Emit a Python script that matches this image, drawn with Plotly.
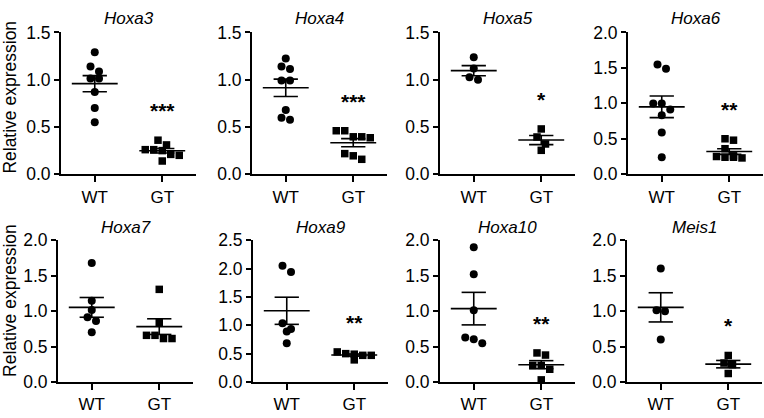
import numpy as np
import plotly.graph_objects as go

# ---------------- data ----------------
genes = ["Hoxa3", "Hoxa4", "Hoxa5", "Hoxa6", "Hoxa7", "Hoxa9", "Hoxa10", "Meis1"]
group_labels = ["WT", "GT"]

wt_hoxa3 = [1.29, 1.14, 1.087, 1.013, 1.013, 0.87, 0.70, 0.55]
gt_hoxa3 = [0.36, 0.31, 0.26, 0.26, 0.25, 0.21, 0.20, 0.14]
wt_hoxa4 = [1.225, 1.14, 1.114, 0.99, 0.99, 0.68, 0.597, 0.577]
gt_hoxa4 = [0.46, 0.46, 0.396, 0.386, 0.396, 0.218, 0.195, 0.158]
wt_hoxa5 = [1.237, 1.119, 1.025, 1.0]
gt_hoxa5 = [0.479, 0.394, 0.32, 0.253]
wt_hoxa6 = [1.546, 1.488, 0.998, 0.998, 0.913, 0.833, 0.588, 0.24]
gt_hoxa6 = [0.50, 0.48, 0.36, 0.26, 0.25, 0.24, 0.24, 0.23]
wt_hoxa7 = [1.678, 1.145, 1.016, 0.913, 0.859, 0.702]
gt_hoxa7 = [1.306, 0.837, 0.658, 0.658, 0.613, 0.613]
wt_hoxa9 = [2.05, 1.94, 1.035, 0.934, 0.889, 0.682]
gt_hoxa9 = [0.53, 0.50, 0.49, 0.47, 0.47, 0.39]
wt_hoxa10 = [1.90, 1.52, 1.011, 0.626, 0.604, 0.546]
gt_hoxa10 = [0.41, 0.38, 0.233, 0.233, 0.18, 0.03]
wt_meis1 = [1.60, 1.011, 0.998, 0.601]
gt_meis1 = [0.374, 0.267, 0.245, 0.12]

wt_values = [wt_hoxa3, wt_hoxa4, wt_hoxa5, wt_hoxa6, wt_hoxa7, wt_hoxa9, wt_hoxa10, wt_meis1]
gt_values = [gt_hoxa3, gt_hoxa4, gt_hoxa5, gt_hoxa6, gt_hoxa7, gt_hoxa9, gt_hoxa10, gt_meis1]

y_max = [1.5, 1.5, 1.5, 2.0, 2.0, 2.5, 2.0, 2.0]
y_step = [0.5, 0.5, 0.5, 0.5, 0.5, 0.5, 0.5, 0.5]
significance = ["***", "***", "*", "**", "", "**", "**", "*"]

# ---------------- layout geometry (pixels) ----------------
W, H = 764, 418
col_left = [[61, 252, 440, 628], [58, 253, 440, 627]]
axis_w = 135
row_top = [23.5, 241.7]
row_bot = [172.5, 390.7]
plot_h = 149.0
title_y = [9, 228.5]
ylab_y = [91.5, 305]

FONT = "Arial, Liberation Sans, sans-serif"
BLACK = "#000000"


def swarm(vals, ppu_y, ppu_x, step_px=8.5, thr_px=7.5):
    vals = np.asarray(vals, float)
    order = np.argsort(-vals, kind="stable")
    rows, cur = [], []
    for i in order:
        if cur and (vals[cur[0]] - vals[i]) * ppu_y > thr_px:
            rows.append(cur)
            cur = []
        cur.append(i)
    if cur:
        rows.append(cur)
    off = np.zeros(len(vals))
    for r in rows:
        n = len(r)
        for k, i in enumerate(r):
            off[i] = (k - (n - 1) / 2) * step_px / ppu_x
    return off


fig = go.Figure()
annotations = []
layout_axes = {}

for p, gene in enumerate(genes):
    row, col = divmod(p, 4)
    ax = p + 1
    xname = "x" if ax == 1 else f"x{ax}"
    yname = "y" if ax == 1 else f"y{ax}"
    left = col_left[row][col]
    xd = [left / W, min((left + axis_w) / W, 1.0)]
    yd = [1 - row_bot[row] / H, 1 - row_top[row] / H]
    ppu_y = plot_h / y_max[p]
    ppu_x = axis_w / 2.0

    for g, (vals, sym, msize) in enumerate([(wt_values[p], "circle", 8), (gt_values[p], "square", 7.5)]):
        vals = np.asarray(vals, float)
        xs = g + swarm(vals, ppu_y, ppu_x)
        fig.add_trace(go.Scatter(
            x=xs, y=vals, mode="markers", xaxis=xname, yaxis=yname,
            marker=dict(symbol=sym, size=msize, color=BLACK, line=dict(width=0)),
            cliponaxis=False, showlegend=False, hoverinfo="y"))
        m = vals.mean()
        sem = vals.std(ddof=1) / np.sqrt(len(vals))
        mw, cw = 0.34, 0.18
        fig.add_trace(go.Scatter(
            x=[g - mw, g + mw, None, g - cw, g + cw, None, g - cw, g + cw, None, g, g],
            y=[m, m, None, m + sem, m + sem, None, m - sem, m - sem, None, m - sem, m + sem],
            mode="lines", xaxis=xname, yaxis=yname,
            line=dict(color=BLACK, width=1.6), cliponaxis=False,
            showlegend=False, hoverinfo="skip"))

    layout_axes["xaxis" if ax == 1 else f"xaxis{ax}"] = dict(
        domain=xd, range=[-0.5, 1.5], anchor=yname,
        tickmode="array", tickvals=[0, 1], ticktext=group_labels,
        showline=True, linecolor=BLACK, linewidth=2,
        ticks="outside", ticklen=6, tickwidth=2, tickcolor=BLACK,
        showgrid=False, zeroline=False, fixedrange=True,
        tickfont=dict(family=FONT, size=17, color=BLACK))
    layout_axes["yaxis" if ax == 1 else f"yaxis{ax}"] = dict(
        domain=yd, range=[0, y_max[p]], anchor=xname,
        tickmode="linear", tick0=0, dtick=y_step[p], tickformat=".1f",
        showline=True, linecolor=BLACK, linewidth=2,
        ticks="outside", ticklen=5, tickwidth=2, tickcolor=BLACK,
        showgrid=False, zeroline=False, fixedrange=True,
        tickfont=dict(family=FONT, size=17.5, color=BLACK))

    annotations.append(dict(
        text=f"<i>{gene}</i>", xref=xname, yref="paper", x=0.5, y=1 - title_y[row] / H,
        xanchor="center", yanchor="middle", showarrow=False,
        font=dict(family=FONT, size=17, color=BLACK)))

    if significance[p]:
        ys = max(gt_values[p]) + 31 / ppu_y
        annotations.append(dict(
            text=f"<b>{significance[p]}</b>", xref=xname, yref=yname, x=1, y=ys,
            xanchor="center", yanchor="middle", yshift=0, showarrow=False,
            font=dict(family=FONT, size=21, color=BLACK)))

for r in range(2):
    annotations.append(dict(
        text="Relative expression", xref="paper", yref="paper",
        x=10.5 / W, y=1 - ylab_y[r] / H, textangle=-90,
        xanchor="center", yanchor="middle", showarrow=False,
        font=dict(family=FONT, size=17.5, color=BLACK)))

fig.update_layout(
    width=W, height=H, margin=dict(l=0, r=0, t=0, b=0),
    paper_bgcolor="white", plot_bgcolor="white",
    font=dict(family=FONT, color=BLACK),
    annotations=annotations, showlegend=False, **layout_axes)

fig.write_html(
    "out.html",
    config={"displayModeBar": False},
    post_script="document.body.style.margin='0';document.body.style.overflow='hidden';",
)
